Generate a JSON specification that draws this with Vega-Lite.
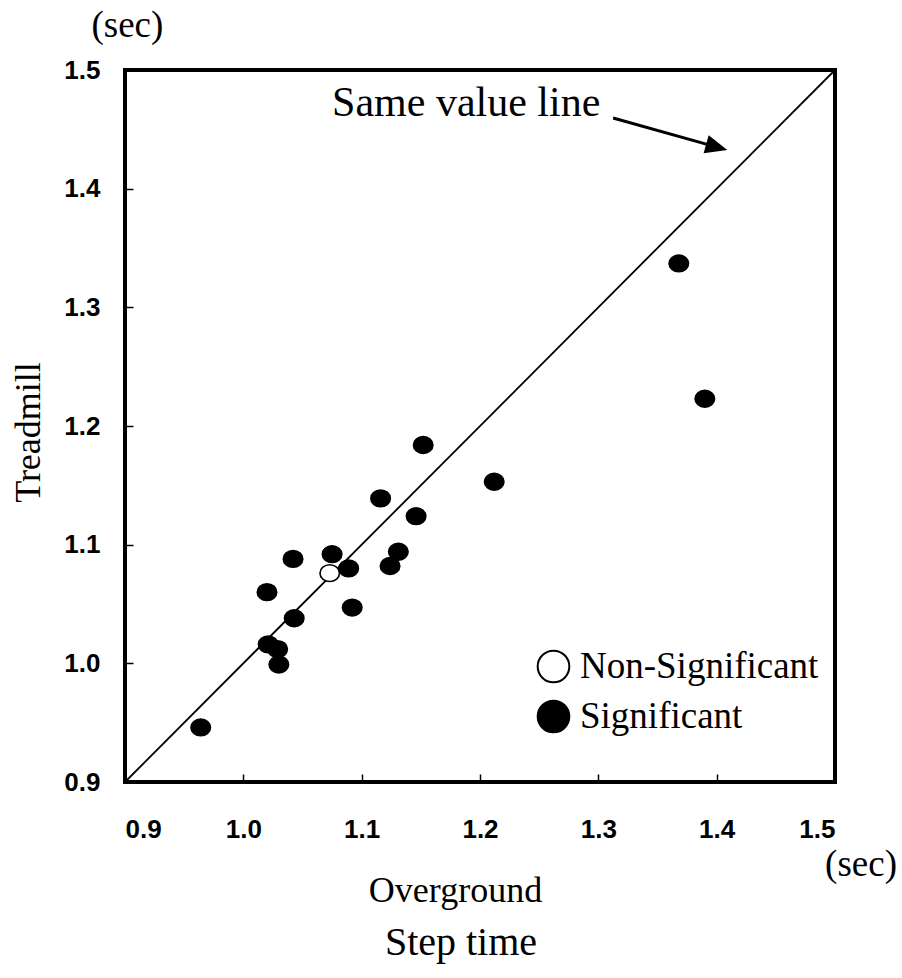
{
  "$schema": "https://vega.github.io/schema/vega-lite/v6.json",
  "width": 710,
  "height": 712,
  "autosize": {"type": "none"},
  "padding": {"left": 125, "top": 70, "right": 67, "bottom": 196},
  "background": "white",
  "title": {
    "text": "Step time",
    "orient": "bottom",
    "anchor": "middle",
    "dx": -19,
    "offset": 15,
    "font": "Liberation Serif",
    "fontSize": 40,
    "fontWeight": "normal",
    "color": "black"
  },
  "config": {
    "view": {"stroke": "black", "strokeWidth": 4},
    "axis": {
      "grid": false,
      "domain": false,
      "ticks": true,
      "tickSize": -8,
      "tickWidth": 1.5,
      "tickColor": "black",
      "labelFont": "Liberation Sans",
      "labelFontSize": 26,
      "labelFontWeight": "bold",
      "labelColor": "black",
      "titleFont": "Liberation Serif",
      "titleFontSize": 36,
      "titleFontWeight": "normal",
      "titleColor": "black"
    }
  },
  "datasets": {
    "steps": [
      {"overground": 0.964, "treadmill": 0.946, "result": "Significant"},
      {"overground": 1.020, "treadmill": 1.060, "result": "Significant"},
      {"overground": 1.021, "treadmill": 1.016, "result": "Significant"},
      {"overground": 1.029, "treadmill": 1.012, "result": "Significant"},
      {"overground": 1.030, "treadmill": 0.999, "result": "Significant"},
      {"overground": 1.042, "treadmill": 1.088, "result": "Significant"},
      {"overground": 1.043, "treadmill": 1.038, "result": "Significant"},
      {"overground": 1.073, "treadmill": 1.076, "result": "Non-Significant"},
      {"overground": 1.075, "treadmill": 1.092, "result": "Significant"},
      {"overground": 1.089, "treadmill": 1.080, "result": "Significant"},
      {"overground": 1.092, "treadmill": 1.047, "result": "Significant"},
      {"overground": 1.116, "treadmill": 1.139, "result": "Significant"},
      {"overground": 1.124, "treadmill": 1.082, "result": "Significant"},
      {"overground": 1.131, "treadmill": 1.094, "result": "Significant"},
      {"overground": 1.146, "treadmill": 1.124, "result": "Significant"},
      {"overground": 1.152, "treadmill": 1.184, "result": "Significant"},
      {"overground": 1.212, "treadmill": 1.153, "result": "Significant"},
      {"overground": 1.368, "treadmill": 1.337, "result": "Significant"},
      {"overground": 1.390, "treadmill": 1.223, "result": "Significant"}
    ],
    "identity": [
      {"x0": 0.9, "y0": 0.9, "x1": 1.5, "y1": 1.5}
    ],
    "pointer": [
      {"x0": 1.3125, "y0": 1.4595, "x1": 1.3995, "y1": 1.4352}
    ],
    "pointerHead": [
      {"x": 1.409, "y": 1.4325}
    ],
    "notes": [
      {"x": 1.075, "y": 1.461, "label": "Same value line"}
    ],
    "units": [
      {"x": 0.902, "y": 1.537, "label": "(sec)"},
      {"x": 1.522, "y": 0.830, "label": "(sec)"}
    ]
  },
  "layer": [
    {
      "data": {"name": "identity"},
      "mark": {"type": "rule", "color": "black", "strokeWidth": 1.8},
      "encoding": {
        "x": {
          "field": "x0", "type": "quantitative",
          "scale": {"domain": [0.9, 1.5], "nice": false, "zero": false},
          "axis": {
            "title": "Overground",
            "values": [0.9, 1.0, 1.1, 1.2, 1.3, 1.4, 1.5],
            "format": ".1f",
            "labelPadding": 42,
            "titleX": 330,
            "titleY": 108,
            "titleBaseline": "middle",
            "titleAlign": "center"
          }
        },
        "y": {
          "field": "y0", "type": "quantitative",
          "scale": {"domain": [0.9, 1.5], "nice": false, "zero": false},
          "axis": {
            "title": "Treadmill",
            "values": [0.9, 1.0, 1.1, 1.2, 1.3, 1.4, 1.5],
            "format": ".1f",
            "labelPadding": 33,
            "titleX": -97,
            "titleY": 362,
            "titleAngle": -90,
            "titleBaseline": "middle",
            "titleAlign": "center"
          }
        },
        "x2": {"field": "x1"},
        "y2": {"field": "y1"}
      }
    },
    {
      "data": {"name": "pointer"},
      "mark": {"type": "rule", "color": "black", "strokeWidth": 3},
      "encoding": {
        "x": {"field": "x0", "type": "quantitative"},
        "y": {"field": "y0", "type": "quantitative"},
        "x2": {"field": "x1"},
        "y2": {"field": "y1"}
      }
    },
    {
      "data": {"name": "pointerHead"},
      "mark": {
        "type": "point",
        "shape": "M0,0L-2,-0.85L-2,0.85Z",
        "size": 484,
        "angle": 15.7,
        "filled": true,
        "color": "black",
        "opacity": 1
      },
      "encoding": {
        "x": {"field": "x", "type": "quantitative"},
        "y": {"field": "y", "type": "quantitative"}
      }
    },
    {
      "data": {"name": "notes"},
      "mark": {
        "type": "text",
        "font": "Liberation Serif",
        "fontSize": 42,
        "align": "left",
        "baseline": "alphabetic",
        "color": "black"
      },
      "encoding": {
        "x": {"field": "x", "type": "quantitative"},
        "y": {"field": "y", "type": "quantitative"},
        "text": {"field": "label"}
      }
    },
    {
      "data": {"name": "units"},
      "mark": {
        "type": "text",
        "font": "Liberation Serif",
        "fontSize": 37,
        "align": "center",
        "baseline": "middle",
        "color": "black"
      },
      "encoding": {
        "x": {"field": "x", "type": "quantitative"},
        "y": {"field": "y", "type": "quantitative"},
        "text": {"field": "label"}
      }
    },
    {
      "data": {"name": "steps"},
      "mark": {
        "type": "point",
        "shape": "M-1,0A1,0.86 0 1,0 1,0A1,0.86 0 1,0 -1,0Z",
        "size": 380,
        "stroke": "black",
        "strokeWidth": 1.6,
        "opacity": 1,
        "fillOpacity": 1
      },
      "encoding": {
        "x": {"field": "overground", "type": "quantitative"},
        "y": {"field": "treadmill", "type": "quantitative"},
        "fill": {
          "field": "result",
          "type": "nominal",
          "scale": {"domain": ["Non-Significant", "Significant"], "range": ["white", "black"]},
          "legend": {
            "title": null,
            "orient": "none",
            "legendX": 410,
            "legendY": 578,
            "symbolType": "circle",
            "symbolSize": 1000,
            "symbolStrokeColor": "black",
            "symbolStrokeWidth": 2,
            "labelFont": "Liberation Serif",
            "labelFontSize": 37,
            "labelColor": "black",
            "labelOffset": 8,
            "rowPadding": 9,
            "labelLimit": 400
          }
        }
      }
    }
  ]
}
